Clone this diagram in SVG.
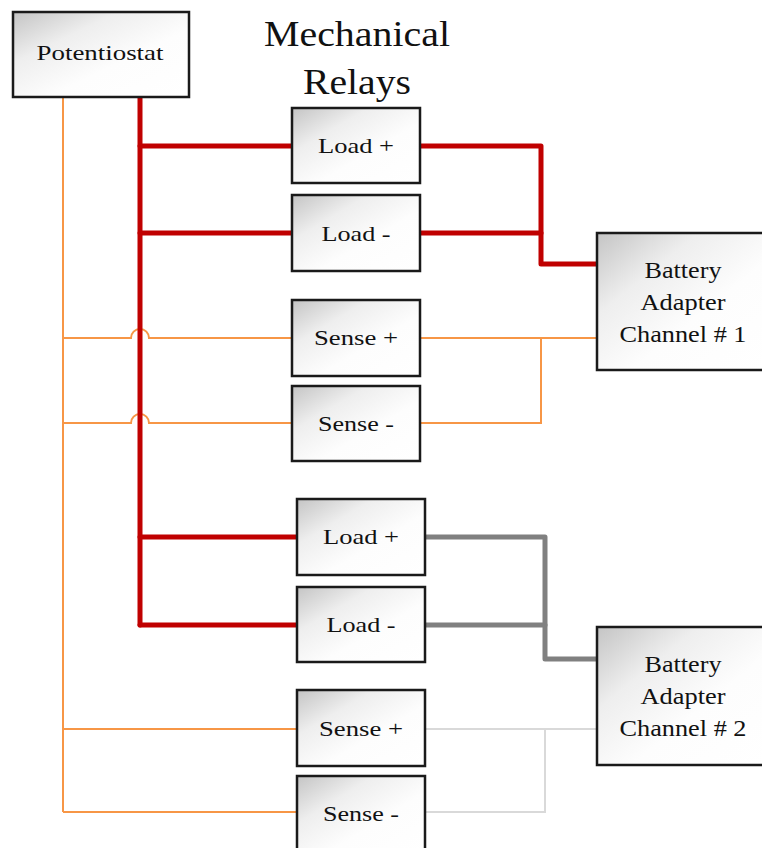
<svg xmlns="http://www.w3.org/2000/svg" width="762" height="848" viewBox="0 0 762 848">
  <defs>
    <linearGradient id="boxFill" x1="0" y1="0" x2="1" y2="1">
      <stop offset="0" stop-color="#c4c4c4"/>
      <stop offset="0.3" stop-color="#eeeeee"/>
      <stop offset="0.6" stop-color="#fdfdfd"/>
      <stop offset="1" stop-color="#ffffff"/>
    </linearGradient>
  </defs>
  <style>
    .box { fill: url(#boxFill); stroke: #1a1a1a; stroke-width: 2.5; }
    .lbl { font-family: "Liberation Serif", "Times New Roman", serif; font-size: 22px; fill: #111; text-anchor: middle; }
    .big { font-size: 23px; }
    .title { font-family: "Liberation Serif", "Times New Roman", serif; font-size: 36px; fill: #111; text-anchor: middle; }
    .red { fill: none; stroke: #c00000; stroke-width: 5; stroke-linecap: round; stroke-linejoin: round; }
    .grey { fill: none; stroke: #808080; stroke-width: 5; stroke-linecap: round; stroke-linejoin: round; }
    .orange { fill: none; stroke: #f79646; stroke-width: 2; }
    .light { fill: none; stroke: #d9d9d9; stroke-width: 2; }
  </style>
  <rect width="762" height="848" fill="#ffffff"/>

  <!-- wiring -->
  <g id="connectors">
    <!-- sense lines from potentiostat -->
    <path class="orange" d="M63 97 V812"/>
    <path class="orange" d="M63 338 H131 A8 8 0 0 1 149 338 H292"/>
    <path class="orange" d="M63 423 H131 A8 8 0 0 1 149 423 H292"/>
    <path class="orange" d="M63 729 H297"/>
    <path class="orange" d="M63 812 H297"/>
    <!-- load lines from potentiostat -->
    <path class="red" d="M140 97 V625"/>
    <path class="red" d="M140 146 H292"/>
    <path class="red" d="M140 233 H292"/>
    <path class="red" d="M140 537 H297"/>
    <path class="red" d="M140 625 H297"/>
    <!-- channel 1 -->
    <path class="red" d="M420 146 H541 V264 H597"/>
    <path class="red" d="M420 233 H541"/>
    <path class="orange" d="M420 338 H597"/>
    <path class="orange" d="M420 423 H541 V338"/>
    <!-- channel 2 -->
    <path class="grey" d="M425 537 H545 V659 H597"/>
    <path class="grey" d="M425 625 H545"/>
    <path class="light" d="M425 729 H597"/>
    <path class="light" d="M425 812 H545 V729"/>
  </g>

  <g id="title">
    <text class="title" x="357" y="46" textLength="186" lengthAdjust="spacingAndGlyphs">Mechanical</text>
    <text class="title" x="357" y="94" textLength="108" lengthAdjust="spacingAndGlyphs">Relays</text>
  </g>

  <g id="potentiostat">
    <rect class="box" x="13" y="12" width="176" height="85"/>
    <text class="lbl" x="100" y="60" textLength="127" lengthAdjust="spacingAndGlyphs">Potentiostat</text>
  </g>

  <g id="relay-load-plus-1">
    <rect class="box" x="292" y="108" width="128" height="75"/>
    <text class="lbl" x="356" y="153" textLength="76" lengthAdjust="spacingAndGlyphs">Load +</text>
  </g>
  <g id="relay-load-minus-1">
    <rect class="box" x="292" y="195" width="128" height="76"/>
    <text class="lbl" x="356" y="241" textLength="69" lengthAdjust="spacingAndGlyphs">Load -</text>
  </g>
  <g id="relay-sense-plus-1">
    <rect class="box" x="292" y="300" width="128" height="76"/>
    <text class="lbl" x="356" y="345" textLength="84" lengthAdjust="spacingAndGlyphs">Sense +</text>
  </g>
  <g id="relay-sense-minus-1">
    <rect class="box" x="292" y="386" width="128" height="75"/>
    <text class="lbl" x="356" y="431" textLength="76" lengthAdjust="spacingAndGlyphs">Sense -</text>
  </g>

  <g id="relay-load-plus-2">
    <rect class="box" x="297" y="499" width="128" height="76"/>
    <text class="lbl" x="361" y="544" textLength="76" lengthAdjust="spacingAndGlyphs">Load +</text>
  </g>
  <g id="relay-load-minus-2">
    <rect class="box" x="297" y="587" width="128" height="75"/>
    <text class="lbl" x="361" y="632" textLength="69" lengthAdjust="spacingAndGlyphs">Load -</text>
  </g>
  <g id="relay-sense-plus-2">
    <rect class="box" x="297" y="690" width="128" height="76"/>
    <text class="lbl" x="361" y="736" textLength="84" lengthAdjust="spacingAndGlyphs">Sense +</text>
  </g>
  <g id="relay-sense-minus-2">
    <rect class="box" x="297" y="776" width="128" height="80"/>
    <text class="lbl" x="361" y="821" textLength="76" lengthAdjust="spacingAndGlyphs">Sense -</text>
  </g>

  <g id="battery-adapter-1">
    <rect class="box" x="597" y="233" width="170" height="137"/>
    <text class="lbl big" x="683" y="278" textLength="77" lengthAdjust="spacingAndGlyphs">Battery</text>
    <text class="lbl big" x="683" y="310" textLength="85" lengthAdjust="spacingAndGlyphs">Adapter</text>
    <text class="lbl big" x="683" y="342" textLength="127" lengthAdjust="spacingAndGlyphs">Channel # 1</text>
  </g>
  <g id="battery-adapter-2">
    <rect class="box" x="597" y="627" width="170" height="138"/>
    <text class="lbl big" x="683" y="672" textLength="77" lengthAdjust="spacingAndGlyphs">Battery</text>
    <text class="lbl big" x="683" y="704" textLength="85" lengthAdjust="spacingAndGlyphs">Adapter</text>
    <text class="lbl big" x="683" y="736" textLength="127" lengthAdjust="spacingAndGlyphs">Channel # 2</text>
  </g>
</svg>
